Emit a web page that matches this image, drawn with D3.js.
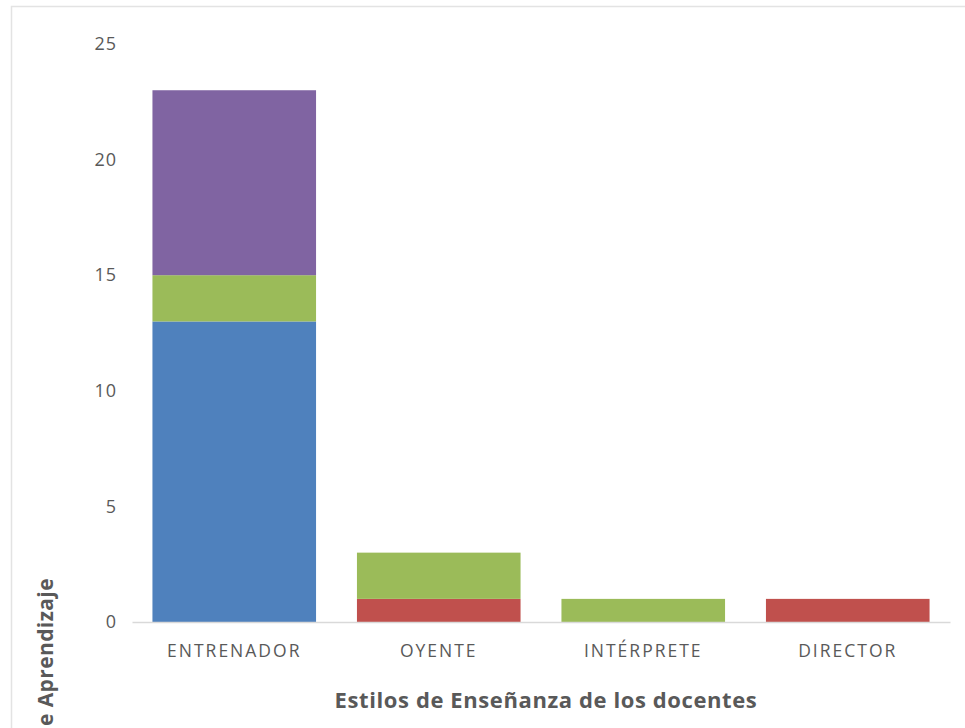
<!DOCTYPE html>
<html>
<head>
<meta charset="utf-8">
<script src="https://cdnjs.cloudflare.com/ajax/libs/d3/7.8.5/d3.min.js"></script>
<style>
  body { margin: 0; background: #fff; }
  svg { display: block; font-family: "Open Sans", "Liberation Sans", sans-serif; }
</style>
</head>
<body>
<div class="chart-container"></div>
<script>
// categories and stacked series values
const categories = ["ENTRENADOR", "OYENTE", "INTÉRPRETE", "DIRECTOR"];
const seriesNames = ["Activo", "Reflexivo", "Teórico", "Pragmático"];
const activo = [13, 0, 0, 0];
const reflexivo = [0, 1, 0, 1];
const teorico = [2, 2, 1, 0];
const pragmatico = [8, 0, 0, 0];
const yTicks = [0, 5, 10, 15, 20, 25];
const colors = ["#4f81bd", "#c0504d", "#9bbb59", "#8064a2"];

function drawChart() {
    const W = 965, H = 728;
    const margin = {top: 44, right: 15, bottom: 106, left: 132};
    const width = W - margin.left - margin.right,
        height = H - margin.top - margin.bottom;

    const svg = d3.select(".chart-container")
        .append("svg")
        .attr("width", W)
        .attr("height", H);

    // light frame of the chart area (cut off at right and bottom)
    svg.append("rect")
        .attr("x", 11.5).attr("y", 6.5)
        .attr("width", 1000).attr("height", 1000)
        .attr("fill", "none")
        .attr("stroke", "#e3e3e3")
        .attr("stroke-width", 1.5);

    const g = svg.append("g")
        .attr("transform", `translate(${margin.left},${margin.top})`);

    const table = categories.map((c, i) => ({
        cat: c,
        Activo: activo[i],
        Reflexivo: reflexivo[i],
        "Teórico": teorico[i],
        "Pragmático": pragmatico[i]
    }));
    const stacked = d3.stack().keys(seriesNames)(table);

    const x = d3.scaleBand()
        .domain(categories)
        .range([0, width])
        .paddingInner(0.2)
        .paddingOuter(0.1);

    const y = d3.scaleLinear()
        .domain([0, 25])
        .range([height, 0]);

    // bars
    g.selectAll(".layer")
        .data(stacked)
        .enter()
        .append("g")
        .attr("class", "layer")
        .attr("fill", (d, i) => colors[i])
        .selectAll("rect")
        .data(d => d.filter(v => v[1] - v[0] > 0))
        .enter()
        .append("rect")
        .attr("x", d => x(d.data.cat))
        .attr("y", d => y(d[1]))
        .attr("width", x.bandwidth())
        .attr("height", d => y(d[0]) - y(d[1]));

    // x axis
    const xAxis = g.append("g")
        .attr("transform", `translate(0,${height})`)
        .call(d3.axisBottom(x).tickSize(0).tickPadding(23));
    xAxis.attr("font-family", null);
    xAxis.select(".domain").attr("stroke", "#d9d9d9").attr("stroke-width", 1.5);
    xAxis.selectAll("text")
        .attr("fill", "#595959")
        .style("font-size", "17.5px")
        .style("letter-spacing", "2px");

    // y axis
    const yAxis = g.append("g")
        .call(d3.axisLeft(y).tickValues(yTicks).tickSize(0).tickPadding(15));
    yAxis.attr("font-family", null);
    yAxis.select(".domain").remove();
    yAxis.selectAll("text")
        .attr("fill", "#595959")
        .style("font-size", "18px")
        .style("letter-spacing", "1px");

    // axis titles
    svg.append("text")
        .attr("x", 546)
        .attr("y", 708)
        .attr("text-anchor", "middle")
        .attr("fill", "#595959")
        .style("font-size", "22px")
        .style("font-weight", "bold")
        .style("letter-spacing", "0.6px")
        .text("Estilos de Enseñanza de los docentes");

    svg.append("text")
        .attr("transform", "translate(53,578) rotate(-90)")
        .attr("text-anchor", "end")
        .attr("fill", "#595959")
        .style("font-size", "21px")
        .style("font-weight", "bold")
        .style("letter-spacing", "0.4px")
        .text("Estilos de Aprendizaje");
}

drawChart();
</script>
</body>
</html>
